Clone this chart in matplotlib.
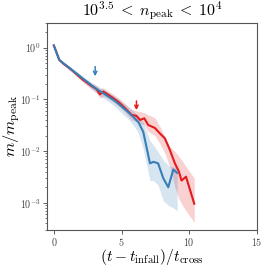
import numpy as np
import matplotlib
matplotlib.use("Agg")
import matplotlib.pyplot as plt

plt.rcParams['mathtext.fontset'] = 'cm'
plt.rcParams['font.family'] = 'serif'
plt.rcParams['font.serif'] = ['DejaVu Serif']

# blue sample
t_blue = [0, 0.4, 0.7, 1.05, 1.4, 1.75, 2.1, 2.45, 2.8, 3.1, 3.45, 3.8, 4.15, 4.5, 4.85,
          5.2, 5.55, 5.9, 6.25, 6.6, 7.1, 7.35, 7.7, 8.08, 8.45, 8.82, 9.11]
m_blue = [1.1, 0.58, 0.5, 0.425, 0.36, 0.305, 0.258, 0.219, 0.186, 0.162, 0.142, 0.124,
          0.108, 0.094, 0.079, 0.066, 0.055, 0.045, 0.036, 0.0237, 0.0058, 0.0062, 0.0058,
          0.003, 0.002, 0.0044, 0.0038]
lo_blue = [1.05, 0.55, 0.47, 0.39, 0.33, 0.275, 0.23, 0.19, 0.16, 0.135, 0.115, 0.1,
           0.086, 0.073, 0.06, 0.049, 0.04, 0.031, 0.022, 0.011, 0.0027, 0.0027, 0.0022,
           0.0011, 0.0009, 0.0008, 0.0007]
hi_blue = [1.15, 0.61, 0.53, 0.455, 0.39, 0.335, 0.285, 0.245, 0.21, 0.19, 0.168, 0.148,
           0.13, 0.114, 0.098, 0.083, 0.07, 0.058, 0.048, 0.036, 0.016, 0.013, 0.0097,
           0.0067, 0.0053, 0.005, 0.0047]

# red sample
t_red = [0, 0.4, 0.7, 1.05, 1.4, 1.75, 2.1, 2.45, 2.8, 3.15, 3.4, 3.65, 4.0, 4.4, 4.8,
         5.15, 5.45, 5.75, 6.1, 6.36, 6.68, 6.97, 7.46, 7.83, 8.2, 8.57, 8.94, 9.24,
         9.43, 9.76, 10.37]
m_red = [1.1, 0.58, 0.49, 0.42, 0.355, 0.295, 0.245, 0.21, 0.18, 0.158, 0.125, 0.142,
         0.124, 0.105, 0.088, 0.072, 0.06, 0.05, 0.048, 0.04, 0.043, 0.032, 0.028, 0.022,
         0.0176, 0.0105, 0.0058, 0.004, 0.0027, 0.0032, 0.00096]
lo_red = [1.05, 0.55, 0.46, 0.39, 0.325, 0.265, 0.22, 0.185, 0.155, 0.135, 0.105, 0.115,
          0.104, 0.088, 0.073, 0.06, 0.049, 0.04, 0.037, 0.034, 0.032, 0.024, 0.02, 0.014,
          0.009, 0.005, 0.002, 0.0012, 0.00096, 0.0007, 0.00042]
hi_red = [1.15, 0.61, 0.52, 0.45, 0.385, 0.325, 0.27, 0.235, 0.205, 0.185, 0.16, 0.168,
          0.146, 0.125, 0.106, 0.088, 0.074, 0.064, 0.06, 0.058, 0.055, 0.05, 0.044, 0.03,
          0.019, 0.0122, 0.0098, 0.0078, 0.0068, 0.005, 0.003]

arrow_x = [3.05, 6.1]
arrow_top = [0.43, 0.093]
arrow_tip = [0.28, 0.062]

c_red = '#e41a1c'
c_blue = '#377eb8'

fig = plt.figure(figsize=(2.66, 2.67), dpi=100)
ax = fig.add_axes([0.177, 0.139, 0.789, 0.775])

ax.fill_between(t_red, lo_red, hi_red, color=c_red, alpha=0.2, lw=0)
ax.fill_between(t_blue, lo_blue, hi_blue, color=c_blue, alpha=0.2, lw=0)
ax.plot(t_red, m_red, color=c_red, lw=1.5)
ax.plot(t_blue, m_blue, color=c_blue, lw=1.5)

for x, y0, y1, c in zip(arrow_x, arrow_top, arrow_tip, [c_blue, c_red]):
    ax.annotate('', xy=(x, y1), xytext=(x, y0),
                arrowprops=dict(arrowstyle='->', color=c, lw=1.1, mutation_scale=6,
                                shrinkA=0, shrinkB=0))

ax.set_yscale('log')
ax.set_xlim(-0.5, 15)
ax.set_ylim(3e-4, 3)
ax.set_xticks([0, 5, 10, 15])
ax.set_xticklabels([r'$0$', r'$5$', r'$10$', r'$15$'])
ax.set_yticks([1e-3, 1e-2, 1e-1, 1])
ax.set_yticklabels([r'$10^{-3}$', r'$10^{-2}$', r'$10^{-1}$', r'$10^{0}$'])
ax.tick_params(labelsize=7.2, colors='#444444', length=3, width=0.6, pad=1.5)
ax.tick_params(which='minor', length=1.8, width=0.5, colors='#444444')
for s in ax.spines.values():
    s.set_color('#555555')
    s.set_linewidth(0.8)

ax.set_title(r'$10^{3.5} \;<\; n_{\rm peak} \;<\; 10^4$', fontsize=11.5, pad=2)
ax.set_xlabel(r'$(t - t_{\rm infall})/t_{\rm cross}$', fontsize=11.2)
ax.xaxis.set_label_coords(0.5, -0.083)
ax.xaxis.label.set_va('top')
ax.set_ylabel(r'$m/m_{\rm peak}$', fontsize=11.8)
ax.yaxis.set_label_coords(-0.12, 0.5)

fig.savefig('out.png', dpi=100)
